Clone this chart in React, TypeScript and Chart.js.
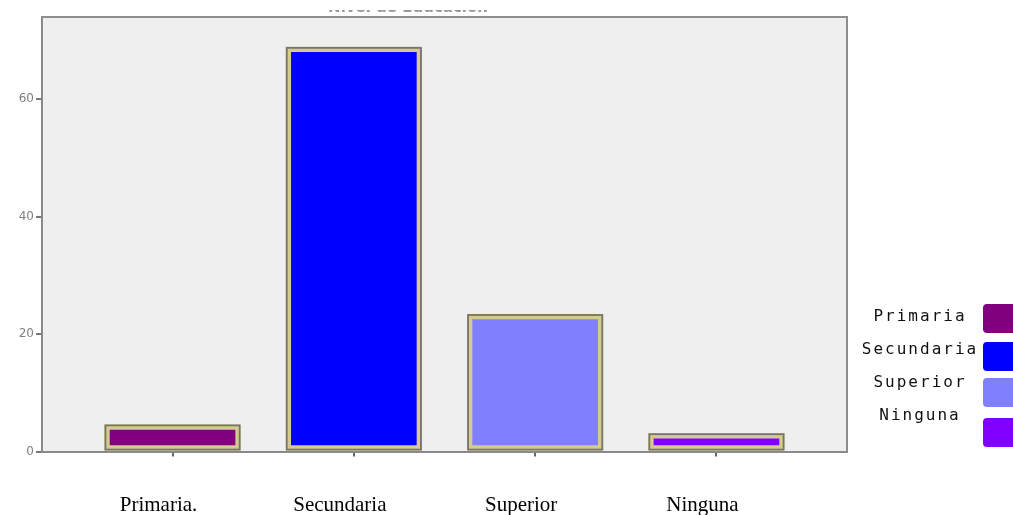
import React, { useEffect, useRef } from "react";
import { Chart, registerables } from "chart.js";

Chart.register(...registerables);

const categories = ["Primaria.", "Secundaria", "Superior", "Ninguna"];
const legendLabels = ["Primaria", "Secundaria", "Superior", "Ninguna"];
const percentages = [4.6, 68.9, 23.4, 3.1];
const barColors = ["#800080", "#0000ff", "#8080ff", "#8000ff"];
const yTicks = [0, 20, 40, 60];
const chartTitle = "Nivel de Educación";

const W = 1013;
const H = 515;

// Grey plotting panel with a frame on top and right
const panelPlugin = {
  id: "panel",
  beforeDraw(chart: any) {
    const { ctx, chartArea: a } = chart;
    ctx.save();
    ctx.fillStyle = "#efefef";
    ctx.fillRect(a.left, a.top, a.right - a.left, a.bottom - a.top);
    ctx.restore();
  },
  afterDraw(chart: any) {
    const { ctx, chartArea: a } = chart;
    ctx.save();
    ctx.strokeStyle = "#8e8e8e";
    ctx.lineWidth = 2;
    ctx.beginPath();
    ctx.moveTo(a.left, a.top);
    ctx.lineTo(a.right, a.top);
    ctx.lineTo(a.right, a.bottom);
    ctx.stroke();
    ctx.restore();
  },
};

// Dark outline around the khaki bar borders
const barOutlinePlugin = {
  id: "barOutline",
  afterDatasetsDraw(chart: any) {
    const { ctx } = chart;
    const meta = chart.getDatasetMeta(0);
    ctx.save();
    ctx.strokeStyle = "#77766a";
    ctx.lineWidth = 1.8;
    meta.data.forEach((bar: any) => {
      const left = bar.x - bar.width / 2;
      const top = Math.min(bar.y, bar.base);
      const h = Math.abs(bar.base - bar.y);
      ctx.strokeRect(left + 0.9, top + 0.9, bar.width - 1.8, h - 1.8);
    });
    ctx.restore();
  },
};

// Title (only its lower edge falls inside the canvas) and the side legend
const decorPlugin = {
  id: "decor",
  afterDraw(chart: any) {
    const { ctx } = chart;
    ctx.save();
    ctx.beginPath();
    ctx.rect(0, 10, W, 2);
    ctx.clip();
    ctx.fillStyle = "#999";
    ctx.font = "bold 15px 'DejaVu Sans'";
    ctx.textAlign = "center";
    ctx.textBaseline = "alphabetic";
    ctx.fillText(chartTitle, 408, 12);
    ctx.restore();

    ctx.save();
    const textY = [317, 350, 383, 416];
    const boxY = [304, 342, 378, 418];
    ctx.font = "16px 'DejaVu Sans Mono'";
    (ctx as any).letterSpacing = "2px";
    ctx.textAlign = "center";
    ctx.textBaseline = "middle";
    legendLabels.forEach((lab, i) => {
      ctx.fillStyle = "#111";
      ctx.fillText(lab, 920, textY[i]);
      ctx.fillStyle = barColors[i];
      ctx.beginPath();
      (ctx as any).roundRect(983, boxY[i], 40, 29, 4);
      ctx.fill();
    });
    ctx.restore();
  },
};

export default function App() {
  const ref = useRef<HTMLCanvasElement>(null);

  useEffect(() => {
    if (!ref.current) return;
    const chart = new Chart(ref.current, {
      type: "bar",
      data: {
        datasets: [
          {
            data: percentages.map((v, i) => ({ x: i, y: v })),
            backgroundColor: barColors,
            borderColor: "#d5cb90",
            borderWidth: 5.5,
            borderSkipped: false,
            barThickness: 136,
          },
        ],
      },
      options: {
        responsive: false,
        animation: false,
        layout: { padding: { left: 0, right: W - 847, top: 17, bottom: 0 } },
        plugins: {
          legend: { display: false },
          tooltip: { enabled: false },
          title: { display: false },
        },
        scales: {
          x: {
            type: "linear",
            min: -0.72,
            max: 3.72,
            offset: false,
            afterBuildTicks: (scale: any) => {
              scale.ticks = categories.map((_, i) => ({ value: i }));
            },
            afterFit: (scale: any) => {
              scale.height = H - 451.5;
            },
            grid: {
              offset: false,
              drawOnChartArea: false,
              drawTicks: true,
              tickLength: 5,
              color: "#666",
              lineWidth: 2,
            },
            border: { display: true, color: "#8a8a8a", width: 2 },
            ticks: {
              autoSkip: false,
              maxRotation: 0,
              labelOffset: -14,
              padding: 36,
              color: "#000",
              font: { family: "'Liberation Serif'", size: 21 },
              callback: (v: any) => categories[v] ?? "",
            },
          },
          y: {
            min: 0,
            max: 74,
            afterBuildTicks: (scale: any) => {
              scale.ticks = yTicks.map((v) => ({ value: v }));
            },
            afterFit: (scale: any) => {
              scale.width = 42;
            },
            grid: {
              drawOnChartArea: false,
              drawTicks: true,
              tickLength: 6,
              color: "#777",
              lineWidth: 2,
            },
            border: { display: true, color: "#8a8a8a", width: 2 },
            ticks: {
              padding: 2,
              color: "#808080",
              font: { family: "'DejaVu Sans'", size: 12 },
            },
          },
        },
      },
      plugins: [panelPlugin, barOutlinePlugin, decorPlugin],
    });
    return () => chart.destroy();
  }, []);

  return (
    <div style={{ position: "absolute", left: 0, top: 0, width: W, height: H, background: "#fff" }}>
      <canvas ref={ref} width={W} height={H} style={{ display: "block" }} />
    </div>
  );
}
